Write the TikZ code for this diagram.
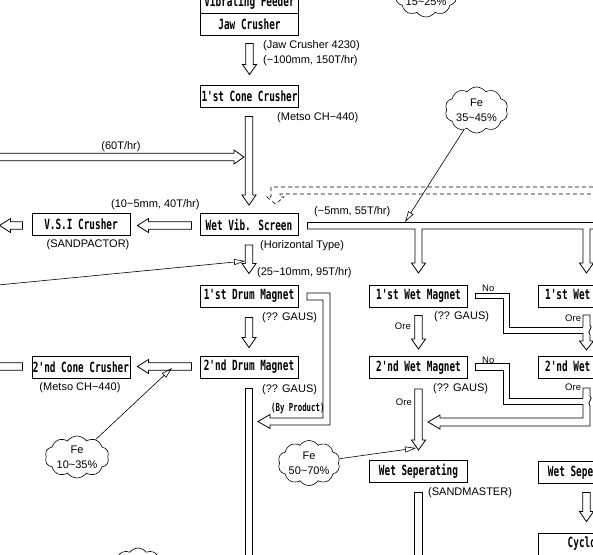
\documentclass[tikz,border=0pt]{standalone}
\usepackage{fontspec}
\setmainfont{Liberation Sans}
\newfontfamily\boxfont[FakeStretch=0.67]{DejaVu Sans Mono}
\usetikzlibrary{shapes.symbols,arrows.meta,calc}
\newcommand\DnArr[2]{\draw[blk] let \p1=#1, \p2=#2 in (\x1-3.7pt,\y1) -- (\x1-3.7pt,\y2+10pt) -- (\x1-7pt,\y2+10pt) -- (\x1,\y2) -- (\x1+7pt,\y2+10pt) -- (\x1+3.7pt,\y2+10pt) -- (\x1+3.7pt,\y1) -- cycle;}
\newcommand\LtArr[2]{\draw[blk] let \p1=#1, \p2=#2 in (\x1,\y1+3.7pt) -- (\x2+11pt,\y1+3.7pt) -- (\x2+11pt,\y1+7pt) -- (\x2,\y1) -- (\x2+11pt,\y1-7pt) -- (\x2+11pt,\y1-3.7pt) -- (\x1,\y1-3.7pt) -- cycle;}
\newcommand\RtArr[2]{\draw[blk] let \p1=#1, \p2=#2 in (\x1,\y1+3.7pt) -- (\x2-10pt,\y1+3.7pt) -- (\x2-10pt,\y1+7pt) -- (\x2,\y1) -- (\x2-10pt,\y1-7pt) -- (\x2-10pt,\y1-3.7pt) -- (\x1,\y1-3.7pt) -- cycle;}
\begin{document}
\begin{tikzpicture}[x=1pt,y=-1pt,
 box/.style={draw, line width=0.9pt, minimum width=98pt, minimum height=22pt, inner sep=0pt, font=\boxfont\bfseries\fontsize{14}{14}\selectfont},
 lbl/.style={inner sep=0pt, font=\fontsize{11}{11}\selectfont},
 sm/.style={inner sep=0pt, font=\fontsize{9.5}{9.5}\selectfont},
 bp/.style={inner sep=0pt, font=\boxfont\bfseries\fontsize{11}{11}\selectfont},
 cloudn/.style={cloud, draw, cloud puffs=10, cloud puff arc=110, inner sep=0pt, line width=0.6pt},
 cloudtxt/.style={inner sep=0pt, align=center, font=\fontsize{11}{15}\selectfont},
 blk/.style={draw, line width=0.8pt, line join=miter},
 ptr/.style={line width=0.6pt, -{Triangle[open,length=11pt,width=6pt]}},
 dsh/.style={draw, line width=0.6pt, dash pattern=on 4pt off 3pt},
]
\fill[white] (0,0) rectangle (593,554);
\useasboundingbox (0,0) rectangle (593,554);
\clip (0,0) rectangle (593,554);

% boxes
\node[box] (vib) at (249.5,2) {Vibrating Feeder};
\node[box] (jaw) at (249.5,24) {Jaw Crusher};
\node[box] (cone1) at (249.5,96) {1'st Cone Crusher};
\node[box] (wvs) at (249,224.5) {Wet Vib. Screen};
\node[box] (vsi) at (81,224.5) {V.S.I Crusher};
\node[box] (drum1) at (249,296) {1'st Drum Magnet};
\node[box] (drum2) at (249,367) {2'nd Drum Magnet};
\node[box] (cone2) at (81,367) {2'nd Cone Crusher};
\node[box] (wm1) at (418.5,296) {1'st Wet Magnet};
\node[box] (wm2) at (418.5,367.5) {2'nd Wet Magnet};
\node[box] (ws) at (418.5,471.5) {Wet Seperating};
\node[box] (wm1r) at (587.5,296) {1'st Wet Magnet};
\node[box] (wm2r) at (587.5,367.5) {2'nd Wet Magnet};
\node[box] (wsr) at (587.5,472) {Wet Seperating};
\node[box] (cyc) at (587.5,544) {Cyclone};

% labels
\node[lbl,anchor=west] (l1) at (263,46) {(Jaw Crusher 4230)};
\node[lbl,anchor=west] (l2) at (263,61) {(−100mm, 150T/hr)};
\node[lbl,anchor=west] (l3) at (277,118) {(Metso CH−440)};
\node[lbl] (l4) at (121,147) {(60T/hr)};
\node[lbl,anchor=west] (l5) at (111,205) {(10\textasciitilde5mm, 40T/hr)};
\node[lbl] (l6) at (88,245) {(SANDPACTOR)};
\node[lbl,anchor=west] (l7) at (260,246) {(Horizontal Type)};
\node[lbl,anchor=west] (l8) at (257,273) {(25\textasciitilde10mm, 95T/hr)};
\node[lbl,anchor=west] (l9) at (314,212) {(−5mm, 55T/hr)};
\node[lbl,anchor=west] (l10) at (262,318) {(?? GAUS)};
\node[lbl,anchor=west] (l11) at (262,390) {(?? GAUS)};
\node[bp,anchor=west] (l12) at (271,408) {(By Product)};
\node[lbl] (l13) at (80,388) {(Metso CH−440)};
\node[lbl,anchor=west] (l14) at (434,317) {(?? GAUS)};
\node[lbl,anchor=west] (l15) at (433,389) {(?? GAUS)};
\node[lbl,anchor=west] (l16) at (428,493) {(SANDMASTER)};
\node[sm,anchor=east] (o1) at (411,326) {Ore};
\node[sm,anchor=east] (o2) at (412,402) {Ore};
\node[sm,anchor=west] (n1) at (482,288) {No};
\node[sm,anchor=west] (n2) at (482,360) {No};
\node[sm,anchor=west] (o3) at (565,318) {Ore};
\node[sm,anchor=west] (o4) at (565,387) {Ore};

% clouds
\node[cloudn, minimum width=62pt, minimum height=46pt] (c15) at (426,-6) {};
\node[cloudtxt] at (c15) {Fe\\15\textasciitilde25\%};
\node[cloudn, minimum width=63pt, minimum height=46pt] (c35) at (476.5,110) {};
\node[cloudtxt] at (c35) {Fe\\35\textasciitilde45\%};
\node[cloudn, minimum width=64pt, minimum height=42pt] (c10) at (77,457) {};
\node[cloudtxt] at (c10) {Fe\\10\textasciitilde35\%};
\node[cloudn, minimum width=62pt, minimum height=45pt] (c50) at (309,463) {};
\node[cloudtxt] at (c50) {Fe\\50\textasciitilde70\%};
\node[cloudn, minimum width=56pt, minimum height=46pt] (cbl) at (138,571) {};

% vertical flow arrows
\DnArr{($(jaw.south)+(0,8)$)}{($(cone1.north)+(0,-10)$)}
\DnArr{($(cone1.south)+(-0.5,9)$)}{($(wvs.north)+(0,-8)$)}
\DnArr{($(wvs.south)+(0,9)$)}{($(drum1.north)+(0,-11)$)}
\DnArr{($(drum1.south)+(0,10)$)}{($(drum2.north)+(0,-8)$)}
\draw[blk] ($(drum2.south)+(-3.7,10)$) rectangle ($(drum2.south)+(3.7,260)$);
\DnArr{($(wm1.south)+(0,8)$)}{($(wm2.north)+(0,-7)$)}
\DnArr{($(wm2.south)+(0,10)$)}{($(ws.north)+(0,-10)$)}
\draw[blk] ($(ws.south)+(-3.7,9)$) rectangle ($(ws.south)+(3.7,200)$);
\DnArr{($(wsr.south)+(-1,9)$)}{($(cyc.north)+(-1,-11)$)}

% horizontal flow arrows
\coordinate (feedL) at (-10,157);
\RtArr{(feedL)}{($(cone1.south |- feedL)+(-5.5,0)$)}
\LtArr{($(wvs.west)+(-8,1)$)}{($(vsi.east)+(7,1)$)}
\LtArr{($(vsi.west)+(-9,1)$)}{($(vsi.west)+(-32,1)$)}
\LtArr{($(drum2.west)+(-8,-0.5)$)}{($(cone2.east)+(7,-0.5)$)}
\LtArr{($(cone2.west)+(-9,-0.5)$)}{($(cone2.west)+(-60,-0.5)$)}

% distribution from wet vib screen
\draw[blk] (307,229) -- (307,222) -- (600,222);
\draw[blk] (307,229) -- (415,229) -- (415,263) -- (411.5,263) -- (418.5,273) -- (425.5,263) -- (422,263) -- (422,229) -- (583,229) -- (583,263) -- (579.5,263) -- (586.5,273) -- (593.5,263) -- (590,263) -- (590,229) -- (600,229);

% dashed return
\draw[dsh] (600,187) -- (271,187) -- (271,197) -- (267,197) -- (275.5,204) -- (284,197) -- (280,197) -- (280,194) -- (600,194);

% by product
\draw[blk] (307,300) -- (307,293) -- (330,293) -- (330,425) -- (270,425) -- (270,428.5) -- (258,421.5) -- (270,414.5) -- (270,418) -- (323,418) -- (323,300) -- cycle;

% No paths
\draw[blk] (475,298) -- (475,293) -- (509,293) -- (509,327) -- (583,327);
\draw[blk] (475,298) -- (503,298) -- (503,333) -- (583,333);
\draw[blk] (475,370) -- (475,363) -- (509,363) -- (509,398) -- (583,398);
\draw[blk] (475,370) -- (503,370) -- (503,404) -- (583,404);

% right ore arrows
\draw[blk] (583,327) -- (583,315) -- (590,315) -- (590,325) .. controls (594,328) and (586,331) .. (590,335) -- (590,341) -- (593.5,341) -- (586.5,350) -- (579.5,341) -- (583,341) -- (583,333);
\draw[blk] (583,398) -- (583,388) -- (590,388) -- (590,396) .. controls (594,399) and (586,402) .. (590,406) -- (590,426) -- (440,426) -- (440,429) -- (428,422) -- (440,415) -- (440,418) -- (583,418) -- (583,404);

% pointer lines
\coordinate (p35) at (405,222);
\coordinate (p10) at (172,368);
\coordinate (p50) at (416,448);
\coordinate (pl) at (-2,285);
\coordinate (pl2) at (245,261);
\draw[ptr] (c35) -- (p35);
\draw[ptr] (c10) -- (p10);
\draw[ptr] (c50) -- (p50);
\draw[ptr] (pl) -- (pl2);
\end{tikzpicture}
\end{document}
